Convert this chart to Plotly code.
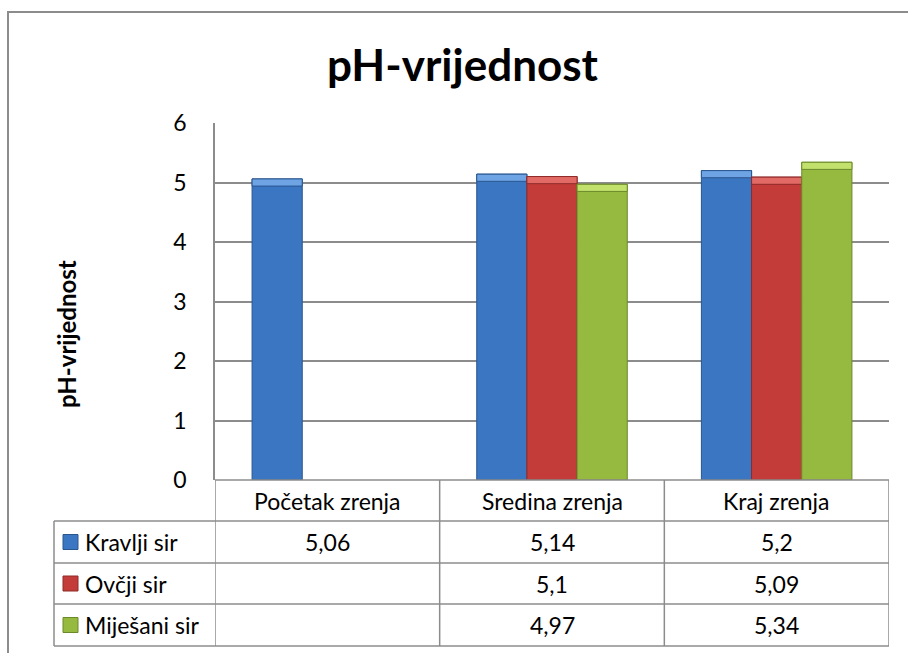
import plotly.graph_objects as go

categories = ["Početak zrenja", "Sredina zrenja", "Kraj zrenja"]
series_names = ["Kravlji sir", "Ovčji sir", "Miješani sir"]
kravlji = [5.06, 5.14, 5.2]
ovcji = [None, 5.1, 5.09]
mijesani = [None, 4.97, 5.34]
y_ticks = [0, 1, 2, 3, 4, 5, 6]
title_text = "pH-vrijednost"
y_title = "pH-vrijednost"

series_values = [kravlji, ovcji, mijesani]
fill_colors = ["#3A76C1", "#C43C3A", "#95BA3F"]
cap_colors = ["#6EA4E4", "#E26A66", "#C2E06C"]
line_colors = ["#2A5690", "#8E2A28", "#6A8A2A"]

FONT = "Lato"
W, H = 908, 653
L, R, T, B = 215, 889, 123, 480  # plot area in pixels
CAP = 0.12  # bevel depth in data units


def px(xp):
    return (xp - L) / (R - L)


def py(yp):
    return (B - yp) / (B - T)


fig = go.Figure()
for name, vals, fc, cc, lc in zip(series_names, series_values, fill_colors, cap_colors, line_colors):
    fig.add_trace(go.Bar(
        x=categories, y=vals, name=name, offsetgroup=name,
        marker=dict(color=fc, line=dict(color=lc, width=1)),
        showlegend=False,
    ))
    fig.add_trace(go.Bar(
        x=categories,
        y=[None if v is None else CAP for v in vals],
        base=[None if v is None else v - CAP for v in vals],
        name=name + " cap", offsetgroup=name,
        marker=dict(color=cc, line=dict(color=lc, width=1)),
        showlegend=False, hoverinfo="skip",
    ))

shapes = []
annotations = []
grey = "#8C8C8C"

shapes.append(dict(type="rect", xref="paper", yref="paper",
                   x0=px(8), x1=px(930), y0=py(12), y1=py(680),
                   line=dict(color=grey, width=2), layer="below"))

row_edges = [480, 521, 563, 604, 646]
label_left = 54
shapes.append(dict(type="line", xref="paper", yref="paper",
                   x0=0, x1=1, y0=py(row_edges[0]), y1=py(row_edges[0]),
                   line=dict(color=grey, width=1.5)))
for ye in row_edges[1:]:
    shapes.append(dict(type="line", xref="paper", yref="paper",
                       x0=px(label_left), x1=1, y0=py(ye), y1=py(ye),
                       line=dict(color=grey, width=1.5)))
for xb in [-0.5, 0.5, 1.5, 2.5]:
    shapes.append(dict(type="line", xref="x", yref="paper",
                       x0=xb, x1=xb, y0=py(row_edges[0]), y1=py(row_edges[-1]),
                       line=dict(color=grey, width=1.5)))
shapes.append(dict(type="line", xref="paper", yref="paper",
                   x0=px(label_left), x1=px(label_left), y0=py(row_edges[1]), y1=py(row_edges[-1]),
                   line=dict(color=grey, width=1.5)))

TF = dict(family=FONT, size=23, color="#000")


def ann(**kw):
    base = dict(showarrow=False, xanchor="center", yanchor="middle")
    base.update(kw)
    annotations.append(base)


hy = (row_edges[0] + row_edges[1]) / 2
for c in categories:
    ann(x=c, y=py(hy), xref="x", yref="paper", text=c, font=TF)

for i, (name, vals, fc, lc) in enumerate(zip(series_names, series_values, fill_colors, line_colors)):
    cy = (row_edges[i + 1] + row_edges[i + 2]) / 2
    shapes.append(dict(type="rect", xref="paper", yref="paper",
                       x0=px(63), x1=px(78), y0=py(cy - 7.5), y1=py(cy + 7.5),
                       fillcolor=fc, line=dict(color=lc, width=1)))
    ann(x=px(83), y=py(cy), xref="paper", yref="paper", text=name, xanchor="left", font=TF)
    for c, v in zip(categories, vals):
        if v is None:
            continue
        ann(x=c, y=py(cy), xref="x", yref="paper", text=str(v).replace(".", ","), font=TF)

ann(x=px(463), y=py(64), xref="paper", yref="paper", text="<b>" + title_text + "</b>",
    font=dict(family=FONT, size=44, color="#000"))
ann(x=px(66), y=py(334), xref="paper", yref="paper", text="<b>" + y_title + "</b>",
    textangle=-90, font=dict(family=FONT, size=24, color="#000"))

fig.update_layout(
    width=W, height=H,
    margin=dict(l=L, r=W - R, t=T, b=H - B),
    paper_bgcolor="white", plot_bgcolor="white",
    barmode="group", bargap=0.33, bargroupgap=0,
    xaxis=dict(showticklabels=False, showgrid=False, showline=False, zeroline=False,
               range=[-0.5, 2.5], fixedrange=True),
    yaxis=dict(range=[0, 6], tickvals=y_ticks, showgrid=True, gridcolor=grey, gridwidth=1.5,
               showline=True, linecolor=grey, linewidth=1.5, ticks="", zeroline=False,
               tickfont=dict(family=FONT, size=23, color="#000"), ticklabelstandoff=22),
    shapes=shapes, annotations=annotations,
    font=dict(family=FONT),
)

fig.write_html("out.html", config={"displayModeBar": False},
               post_script="document.body.style.margin='0';")
